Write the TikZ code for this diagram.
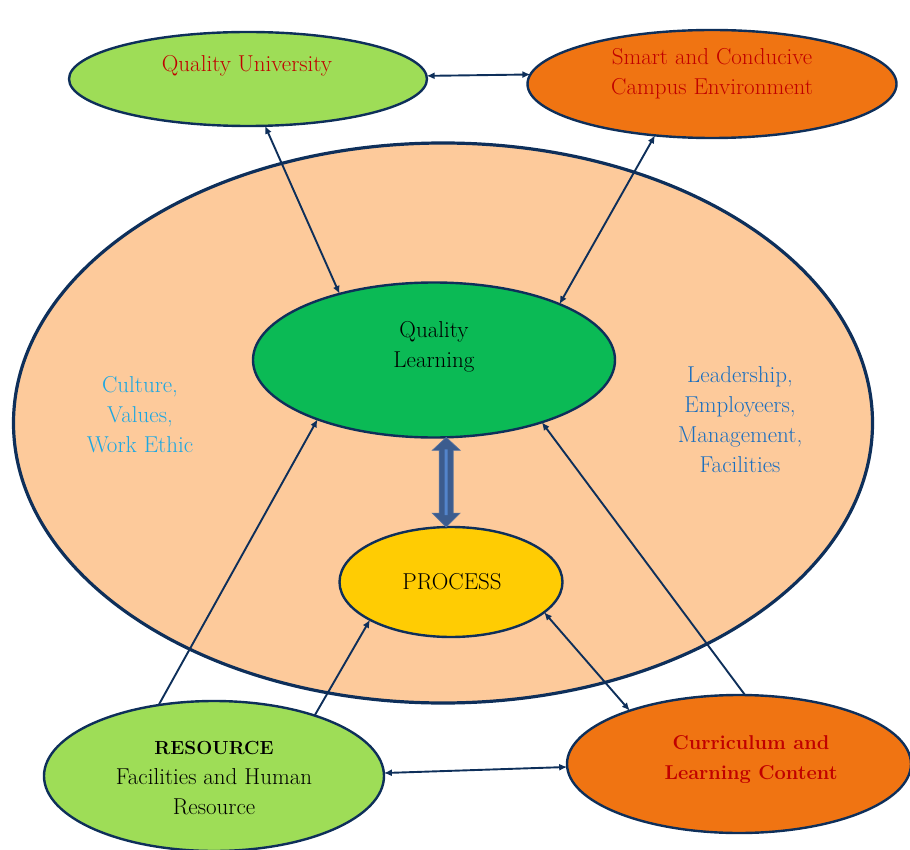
\documentclass[tikz,border=0pt]{standalone}
\usetikzlibrary{shapes.geometric,arrows.meta,calc}

\definecolor{edge}{HTML}{0E2F5A}
\definecolor{peach}{HTML}{FDCA9B}
\definecolor{lime}{HTML}{9EDD57}
\definecolor{tang}{HTML}{F07412}
\definecolor{emer}{HTML}{0BBA55}
\definecolor{gold}{HTML}{FFCC03}
\definecolor{crimson}{HTML}{C00000}
\definecolor{sky}{HTML}{1CA7E2}
\definecolor{azure}{HTML}{1C6FBF}
\definecolor{steel}{HTML}{3C5C8E}
\definecolor{stripe}{HTML}{5384CB}

\tikzset{
  blob/.style={ellipse, draw=edge, line width=2.4pt, inner sep=0pt, outer sep=0pt},
  link/.style={draw=edge, line width=1.9pt, >={Latex[length=8pt,width=7pt]}},
  lbl/.style={align=center, inner sep=0pt, font=\fontsize{23}{30}\selectfont},
}

\begin{document}
\begin{tikzpicture}[x=1pt,y=-1pt]
\useasboundingbox (0,0) rectangle (910,850);

% surrounding environment
\node[blob, line width=3.2pt, fill=peach, minimum width=859, minimum height=560] (env) at (443,423) {};

% outer goals and inputs
\node[blob, fill=lime, minimum width=358, minimum height=94] (qu) at (248,79) {};
\node[blob, fill=tang, minimum width=369, minimum height=108] (smart) at (712,84) {};
\node[blob, fill=emer, minimum width=362, minimum height=155] (ql) at (434,360) {};
\node[blob, fill=gold, minimum width=223, minimum height=110] (proc) at (451,582) {};
\node[blob, fill=lime, minimum width=340, minimum height=150] (res) at (214,776) {};
\node[blob, fill=tang, minimum width=344, minimum height=138] (cur) at (739,764) {};

% texts
\node[lbl, text=crimson] (tqu) at (247,66) {Quality University};
\node[lbl, text=crimson] (tsmart) at (712,74) {Smart and Conducive\\Campus Environment};
\node[lbl, text=black] (tql) at (434,347) {Quality\\Learning};
\node[lbl, text=black] (tproc) at (452,582) {PROCESS};
\node[lbl, text=black] (tres) at (214,778) {{\bfseries\fontsize{19}{30}\selectfont RESOURCE}\\Facilities and Human\\Resource};
\node[lbl, text=crimson, font=\bfseries\fontsize{20}{30}\selectfont] (tcur) at (751,760) {Curriculum and\\Learning Content};
\node[lbl, text=sky] (tcul) at (140,415) {Culture,\\Values,\\Work Ethic};
\node[lbl, text=azure] (tlead) at (740,420) {Leadership,\\Employeers,\\Management,\\Facilities};

% connectors
\draw[link,<->] (qu.1.6) -- (smart.177.5);
\draw[link,<->] (qu.-70.8) -- (ql.145);
\draw[link,<->] (smart.-138) -- (ql.24.6);
\draw[link,->] (res.128.7) -- (ql.-153);
\draw[link,->] (res.31.8) -- (proc.-155);
\draw[link,<->] (proc.-18.6) -- (cur.154.7);
\draw[link,->] (cur.85) -- (ql.-30);
\draw[link,<->] (res.1.3) -- (cur.181.3);

% broad two-way arrow between learning and process
\coordinate (ta) at (ql.-81);
\coordinate (tb) at (proc.95);
\filldraw[fill=steel, draw=steel!85!white, line width=0.6pt]
  (ta) -- ($(ta)+(14,13)$) -- ($(ta)+(7,13)$) -- ($(tb)+(7,-14)$) -- ($(tb)+(14,-14)$)
  -- (tb) -- ($(tb)+(-14,-14)$) -- ($(tb)+(-7,-14)$) -- ($(ta)+(-7,13)$) -- ($(ta)+(-14,13)$) -- cycle;
\draw[stripe, line width=3pt] ($(ta)+(0,12)$) -- ($(tb)+(0,-12)$);
\end{tikzpicture}
\end{document}
